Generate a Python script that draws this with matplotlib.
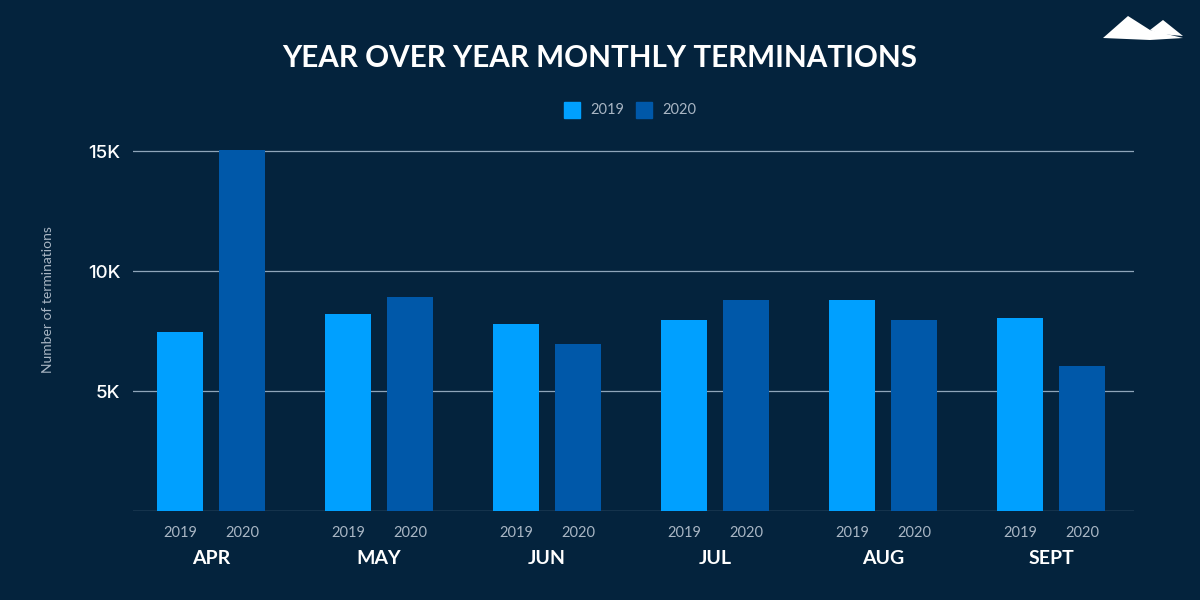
import matplotlib
matplotlib.use("Agg")
import matplotlib.pyplot as plt
import numpy as np
from matplotlib.patches import Polygon, Rectangle
import matplotlib.transforms as mtransforms

months = ["APR", "MAY", "JUN", "JUL", "AUG", "SEPT"]
series_names = ["2019", "2020"]
values_2019 = [7450, 8210, 7790, 7960, 8790, 8040]
values_2020 = [15050, 8920, 6960, 8790, 7960, 6040]
y_ticks = [5000, 10000, 15000]
y_tick_labels = ["5K", "10K", "15K"]

BG = "#04233D"
C2019 = "#00A0FF"
C2020 = "#0058A9"
GRID = "#8FA5BA"
GRAY = "#A9B6C4"

plt.rcParams["font.family"] = ["Lato", "DejaVu Sans"]

fig = plt.figure(figsize=(12, 6), dpi=100, facecolor=BG)
ax = fig.add_axes([133/1200, 1-511/600, (1134-133)/1200, (511-139)/600])
ax.set_facecolor(BG)

x = np.arange(len(months))
off = 31/168
w = 46/168
ax.bar(x - off, values_2019, width=w, color=C2019, zorder=3)
ax.bar(x + off, values_2020, width=w, color=C2020, zorder=3)

ax.set_xlim(-0.464, 5.494)
ax.set_ylim(0, 15500)

for yv in [0] + y_ticks:
    ax.axhline(yv, color=GRID, lw=0.9, zorder=1)

ax.set_yticks(y_ticks)
ax.set_yticklabels(y_tick_labels, fontsize=13.5, color="white", fontweight="medium",
                   family=["Inter", "DejaVu Sans"])
ax.tick_params(axis="y", length=0, pad=9)

xt = np.concatenate([x - off, x + off])
xl = ["2019"] * len(months) + ["2020"] * len(months)
ax.set_xticks(xt)
ax.set_xticklabels(xl, fontsize=10.5, color=GRAY)
ax.tick_params(axis="x", length=0, pad=11)

for s in ax.spines.values():
    s.set_visible(False)

trans = mtransforms.blended_transform_factory(ax.transData, fig.transFigure)
for i, m in enumerate(months):
    ax.text(i, 1-559/600, m, transform=trans, ha="center", va="center",
            fontsize=14, fontweight="bold", color="white")

fig.text(0.5, 1-58/600, "YEAR OVER YEAR MONTHLY TERMINATIONS", ha="center", va="center",
         fontsize=21.3, fontweight="bold", color="white")

fig.text(48/1200, 0.5, "Number of terminations", rotation=90, ha="center", va="center",
         fontsize=10, color=GRAY)

# legend
for sx, col, lab in [(564, C2019, series_names[0]), (636, C2020, series_names[1])]:
    fig.patches.append(Rectangle((sx/1200, 1-118/600), 16/1200, 16/600,
                                 transform=fig.transFigure, color=col))
    fig.text((sx+26)/1200, 1-110/600, lab, ha="left", va="center", fontsize=10.5, color=GRAY)

# logo
def P(px, py):
    return (px/1200, 1-py/600)
verts1 = [P(1103, 38), P(1128, 16), P(1150, 30), P(1183, 38), P(1150, 40), P(1103, 38)]
verts2 = [P(1150, 30), P(1163, 20), P(1183, 36), P(1160, 34), P(1150, 30)]
for v in (verts1, verts2):
    fig.patches.append(Polygon(v, closed=True, transform=fig.transFigure,
                               facecolor="white", edgecolor="none"))

fig.savefig("out.png", dpi=100, facecolor=BG)
